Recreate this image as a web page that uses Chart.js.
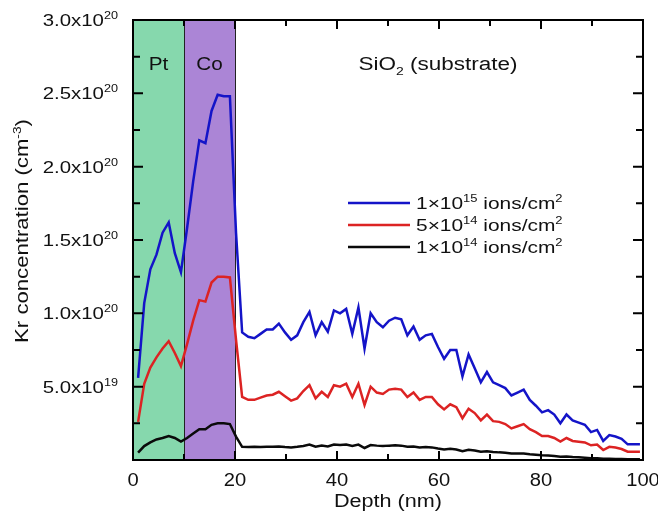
<!DOCTYPE html>
<html>
<head>
<meta charset="utf-8">
<title>Kr concentration vs depth</title>
<script src="https://cdn.jsdelivr.net/npm/chart.js@4.4.0/dist/chart.umd.min.js"></script>
<style>
  body { margin: 0; background: #fff; }
  #wrap { width: 658px; height: 521px; }
</style>
</head>
<body>
<div id="wrap"><canvas id="myChart" width="658" height="521"></canvas></div>
<script>
// depth (nm) and Kr concentration (units of 1e19 cm^-3)
const depth = [1.0, 2.2, 3.4, 4.6, 5.8, 7.0, 8.2, 9.4, 10.6, 11.8, 13.0, 14.2, 15.4, 16.6, 17.8, 19.0,
    20.2, 21.4, 22.6, 23.8, 25.0, 26.2, 27.4, 28.6, 29.8, 31.0, 32.2, 33.4, 34.6, 35.8, 37.0, 38.2,
    39.4, 40.6, 41.8, 43.0, 44.2, 45.4, 46.6, 47.8, 49.0, 50.2, 51.4, 52.6, 53.8, 55.0, 56.2, 57.4,
    58.6, 59.8, 61.0, 62.2, 63.4, 64.6, 65.8, 67.0, 68.2, 69.4, 70.6, 71.8, 73.0, 74.2, 75.4, 76.6,
    77.8, 79.0, 80.2, 81.4, 82.6, 83.8, 85.0, 86.2, 87.4, 88.6, 89.8, 91.0, 92.2, 93.4, 94.6, 95.8,
    97.0, 98.2, 99.4];

const dose1e15 = [5.6, 10.7, 13.0, 14.0, 15.5, 16.2, 14.1, 12.8, 15.8, 19.0, 21.8, 21.6, 23.8, 24.9, 24.8, 24.8,
    15.5, 8.7, 8.4, 8.3, 8.6, 8.9, 8.9, 9.3, 8.7, 8.2, 8.5, 9.4, 10.1, 8.5, 9.4, 8.75,
    10.2, 10.0, 10.3, 8.6, 10.4, 7.6, 10.0, 9.4, 9.05, 9.5, 9.7, 9.6, 8.5, 9.1, 8.2, 8.5,
    8.6, 7.7, 6.9, 7.5, 7.5, 5.7, 7.2, 6.25, 5.3, 6.0, 5.3, 5.1, 4.9, 4.4, 4.6, 4.8,
    4.1, 3.7, 3.25, 3.4, 3.1, 2.5, 3.1, 2.7, 2.55, 2.4, 1.9, 2.05, 1.3, 1.7, 1.6, 1.45,
    1.07, 1.07, 1.07];

const dose5e14 = [2.6, 5.2, 6.3, 7.0, 7.6, 8.1, 7.3, 6.4, 7.9, 9.5, 10.9, 10.8, 12.1, 12.5, 12.5, 12.45,
    8.2, 4.3, 4.1, 4.1, 4.25, 4.4, 4.45, 4.65, 4.35, 4.05, 4.2, 4.7, 5.1, 4.2, 4.65, 4.3,
    5.1, 5.0, 5.2, 4.3, 5.2, 3.75, 5.0, 4.6, 4.5, 4.8, 4.85, 4.8, 4.3, 4.6, 4.1, 4.3,
    4.3, 3.8, 3.45, 3.8, 3.6, 2.85, 3.5, 3.2, 2.7, 3.1, 2.65, 2.6, 2.45, 2.15, 2.3, 2.45,
    2.1, 1.9, 1.64, 1.64, 1.5, 1.25, 1.5, 1.3, 1.25, 1.2, 1.0, 1.05, 0.68, 0.9, 0.85, 0.75,
    0.57, 0.57, 0.57];

const dose1e14 = [0.5, 0.95, 1.2, 1.4, 1.5, 1.64, 1.5, 1.25, 1.5, 1.8, 2.1, 2.1, 2.4, 2.5, 2.5, 2.45,
    1.6, 0.9, 0.88, 0.9, 0.88, 0.9, 0.9, 0.92, 0.88, 0.86, 0.9, 0.95, 1.05, 0.9, 0.98, 0.92,
    1.05, 1.02, 1.05, 0.95, 1.05, 0.82, 1.02, 0.98, 0.95, 0.98, 1.0, 0.98, 0.9, 0.92, 0.85, 0.88,
    0.86, 0.78, 0.72, 0.76, 0.72, 0.6, 0.7, 0.65, 0.56, 0.6, 0.55, 0.52, 0.5, 0.45, 0.45, 0.45,
    0.4, 0.36, 0.32, 0.3, 0.28, 0.22, 0.24, 0.2, 0.18, 0.15, 0.12, 0.12, 0.08, 0.08, 0.07, 0.06,
    0.05, 0.05, 0.05];

const seriesNames = ['1×10¹⁵ ions/cm²', '5×10¹⁴ ions/cm²', '1×10¹⁴ ions/cm²'];
const doseMant = ['1', '5', '1'];
const doseExp = ['15', '14', '14'];
const seriesColors = ['#1414c8', '#dc2323', '#0a0a0a'];

// layers of the sample
const layerNames = ['Pt', 'Co'];
const layerFrom = [0, 10];
const layerTo = [10, 20];
const layerColors = ['#86d8ad', '#ab85d6'];

// axis ticks
const xTicks = [0, 20, 40, 60, 80, 100];
const yTicks = [5, 10, 15, 20, 25, 30];
const yMant = ['5.0', '1.0', '1.5', '2.0', '2.5', '3.0'];
const yExp = ['19', '20', '20', '20', '20', '20'];

const FONT = '"Liberation Sans", Arial, sans-serif';

// draws text made of normal / superscript (1) / subscript (-1) pieces,
// stretched a bit sideways since the original lettering is wider
function richText(ctx, parts, x, y, align, fs, sx) {
    const segs = parts.map(([t, k]) => {
        const size = k ? fs * 0.62 : fs;
        ctx.font = size + 'px ' + FONT;
        return { t, k, size, w: ctx.measureText(t).width * sx };
    });
    const total = segs.reduce((s, g) => s + g.w, 0);
    let cx = align === 'right' ? x - total : align === 'center' ? x - total / 2 : x;
    const base = y + fs * 0.358;
    ctx.textAlign = 'left';
    ctx.textBaseline = 'alphabetic';
    ctx.fillStyle = '#111';
    segs.forEach(g => {
        ctx.font = g.size + 'px ' + FONT;
        const dy = g.k === 1 ? -fs * 0.42 : g.k === -1 ? fs * 0.25 : 0;
        ctx.save();
        ctx.translate(cx, base + dy);
        ctx.scale(sx, 1);
        ctx.fillText(g.t, 0, 0);
        ctx.restore();
        cx += g.w;
    });
}

const decor = {
    id: 'decor',
    beforeDatasetsDraw(chart) {
        const { ctx, chartArea: a, scales: { x } } = chart;
        ctx.save();
        layerNames.forEach((n, i) => {
            const x0 = x.getPixelForValue(layerFrom[i]);
            const x1 = x.getPixelForValue(layerTo[i]);
            ctx.fillStyle = layerColors[i];
            ctx.fillRect(x0, a.top, x1 - x0, a.bottom - a.top);
        });
        ctx.strokeStyle = '#222';
        ctx.lineWidth = 1;
        layerTo.forEach(v => {
            const px = Math.round(x.getPixelForValue(v)) + 0.5;
            ctx.beginPath();
            ctx.moveTo(px, a.top);
            ctx.lineTo(px, a.bottom);
            ctx.stroke();
        });
        ctx.restore();
    },
    afterDraw(chart) {
        const { ctx, chartArea: a, scales: { x, y } } = chart;
        ctx.save();

        // frame
        ctx.strokeStyle = '#000';
        ctx.lineWidth = 2;
        ctx.strokeRect(a.left, a.top, a.right - a.left, a.bottom - a.top);

        // inward ticks on all four sides
        for (let v = 0; v <= 100; v += 10) {
            const px = x.getPixelForValue(v);
            const len = v % 20 === 0 ? 9 : 6;
            ctx.beginPath();
            ctx.moveTo(px, a.bottom); ctx.lineTo(px, a.bottom - len);
            ctx.moveTo(px, a.top); ctx.lineTo(px, a.top + len);
            ctx.stroke();
        }
        for (let v = 0; v <= 30; v += 2.5) {
            const py = y.getPixelForValue(v);
            const len = v % 5 === 0 ? 10 : 7;
            ctx.beginPath();
            ctx.moveTo(a.left, py); ctx.lineTo(a.left + len, py);
            ctx.moveTo(a.right, py); ctx.lineTo(a.right - len, py);
            ctx.stroke();
        }

        // tick labels
        xTicks.forEach(v => {
            richText(ctx, [[String(v), 0]], x.getPixelForValue(v), a.bottom + 20, 'center', 18, 1.12);
        });
        yTicks.forEach((v, i) => {
            richText(ctx, [[yMant[i] + 'x10', 0], [yExp[i], 1]], a.left - 15, y.getPixelForValue(v), 'right', 17, 1.2);
        });

        // axis titles
        richText(ctx, [['Depth (nm)', 0]], (a.left + a.right) / 2, a.bottom + 41, 'center', 18, 1.2);
        ctx.save();
        ctx.translate(22, 231);
        ctx.rotate(-Math.PI / 2);
        richText(ctx, [['Kr concentration (cm', 0], ['-3', 1], [')', 0]], 0, 0, 'center', 18, 1.23);
        ctx.restore();

        // layer names
        layerNames.forEach((n, i) => {
            const cx = (x.getPixelForValue(layerFrom[i]) + x.getPixelForValue(layerTo[i])) / 2;
            richText(ctx, [[n, 0]], cx, a.top + 44, 'center', 18, 1.15);
        });
        richText(ctx, [['SiO', 0], ['2', -1], [' (substrate)', 0]], x.getPixelForValue(44.2), a.top + 44, 'left', 18, 1.25);

        // legend
        seriesNames.forEach((n, i) => {
            const ly = 203 + i * 22;
            ctx.strokeStyle = seriesColors[i];
            ctx.lineWidth = 2.5;
            ctx.beginPath();
            ctx.moveTo(348, ly); ctx.lineTo(410, ly);
            ctx.stroke();
            richText(ctx, [[doseMant[i] + '×10', 0], [doseExp[i], 1], [' ions/cm', 0], ['2', 1]], 416, ly, 'left', 17, 1.23);
        });
        ctx.restore();
    }
};

const series = [dose1e15, dose5e14, dose1e14];
const datasets = series.map((s, i) => ({
    label: seriesNames[i],
    data: depth.map((d, j) => ({ x: d, y: s[j] })),
    borderColor: seriesColors[i],
    backgroundColor: seriesColors[i],
    borderWidth: 2.5,
    pointRadius: 0,
    tension: 0,
    fill: false,
}));

let myChart;
function createChart() {
    const ctx = document.getElementById('myChart').getContext('2d');
    if (myChart) {
        myChart.destroy();
    }
    myChart = new Chart(ctx, {
        type: 'line',
        data: { datasets: datasets.slice().reverse() },
        options: {
            responsive: false,
            maintainAspectRatio: false,
            devicePixelRatio: 1,
            animation: false,
            layout: { padding: { left: 133, right: 15, top: 20, bottom: 61 } },
            plugins: { legend: { display: false }, tooltip: { enabled: false } },
            scales: {
                x: { type: 'linear', min: 0, max: 100, display: false },
                y: { type: 'linear', min: 0, max: 30, display: false },
            },
        },
        plugins: [decor],
    });
}

window.onload = () => {
    createChart();
};
</script>
</body>
</html>
